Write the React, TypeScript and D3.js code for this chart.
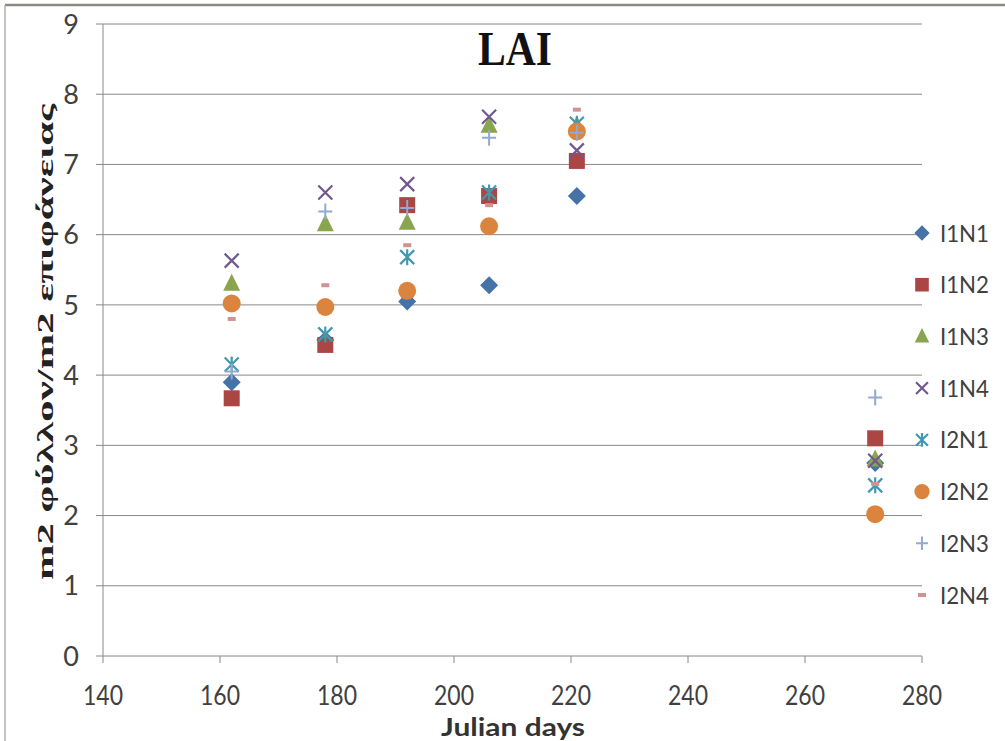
import React from "react";
import * as d3 from "d3";

const days = [162, 178, 192, 206, 221, 272];
const seriesNames = ["I1N1", "I1N2", "I1N3", "I1N4", "I2N1", "I2N2", "I2N3", "I2N4"];
const I1N1 = [3.9, 4.5, 5.05, 5.28, 6.55, 2.75];
const I1N2 = [3.67, 4.43, 6.42, 6.55, 7.05, 3.1];
const I1N3 = [5.3, 6.15, 6.17, 7.55, 7.55, 2.8];
const I1N4 = [5.63, 6.6, 6.72, 7.68, 7.2, 2.78];
const I2N1 = [4.15, 4.58, 5.68, 6.6, 7.58, 2.43];
const I2N2 = [5.02, 4.97, 5.2, 6.12, 7.47, 2.02];
const I2N3 = [4.05, 6.33, 6.38, 7.38, 7.45, 3.68];
const I2N4 = [4.8, 5.28, 5.85, 6.42, 7.78, 2.45];
const seriesValues = [I1N1, I1N2, I1N3, I1N4, I2N1, I2N2, I2N3, I2N4];
const colors = ["#4572A7", "#AA4643", "#89A54E", "#71588F", "#4198AF", "#DB843D", "#93A9CF", "#D19392"];
const shapes = ["diamond", "square", "triangle", "x", "star", "circle", "plus", "dash"];
const xTicks = [140, 160, 180, 200, 220, 240, 260, 280];
const yTicks = [0, 1, 2, 3, 4, 5, 6, 7, 8, 9];

const x = d3.scaleLinear().domain([140, 280]).range([103, 922]);
const y = d3.scaleLinear().domain([0, 9]).range([656, 24]);

const sans = "Lato, 'Open Sans', sans-serif";

function Marker({ shape, cx, cy, color, s = 1 }: { shape: string; cx: number; cy: number; color: string; s?: number }) {
  const k = (v: number) => v * s;
  switch (shape) {
    case "diamond":
      return <path d={`M${cx},${cy - k(9)}L${cx + k(9)},${cy}L${cx},${cy + k(9)}L${cx - k(9)},${cy}Z`} fill={color} />;
    case "square":
      return <rect x={cx - k(8)} y={cy - k(8)} width={k(16)} height={k(16)} fill={color} />;
    case "triangle":
      return <path d={`M${cx},${cy - k(10)}L${cx + k(8.5)},${cy + k(7)}L${cx - k(8.5)},${cy + k(7)}Z`} fill={color} />;
    case "circle":
      return <circle cx={cx} cy={cy} r={k(9)} fill={color} />;
    case "x":
      return (
        <path
          d={`M${cx - k(7)},${cy - k(7)}L${cx + k(7)},${cy + k(7)}M${cx - k(7)},${cy + k(7)}L${cx + k(7)},${cy - k(7)}`}
          stroke={color}
          strokeWidth={2.2}
        />
      );
    case "star":
      return (
        <path
          d={`M${cx - k(7)},${cy - k(7)}L${cx + k(7)},${cy + k(7)}M${cx - k(7)},${cy + k(7)}L${cx + k(7)},${cy - k(7)}M${cx},${cy - k(8)}L${cx},${cy + k(8)}`}
          stroke={color}
          strokeWidth={2.2}
        />
      );
    case "plus":
      return <path d={`M${cx - k(7)},${cy}L${cx + k(7)},${cy}M${cx},${cy - k(8)}L${cx},${cy + k(8)}`} stroke={color} strokeWidth={2} />;
    case "dash":
      return <rect x={cx - 4} y={cy - 2} width={8} height={4} fill={color} />;
    default:
      return null;
  }
}

export default function App() {
  const legendY = d3.scaleLinear().domain([0, 7]).range([233, 595]);
  return (
    <svg width={1005} height={741} style={{ position: "absolute", left: 0, top: 0, background: "#fff" }}>
      <rect x={0} y={0} width={1005} height={741} fill="#fff" />
      <line x1={5} y1={5} x2={1005} y2={5} stroke="#8a8a80" strokeWidth={2.5} />
      <line x1={5} y1={5} x2={5} y2={741} stroke="#b0b0b0" strokeWidth={1.5} />
      {yTicks.map((t) => (
        <g key={t}>
          {t > 0 && <line x1={103} x2={922} y1={y(t)} y2={y(t)} stroke="#888" strokeWidth={1} />}
          <line x1={96} x2={103} y1={y(t)} y2={y(t)} stroke="#888" strokeWidth={1} />
          <text x={79} y={y(t)} dy="0.36em" textAnchor="end" fontFamily={sans} fontSize={27} fill="#404040">
            {t}
          </text>
        </g>
      ))}
      <line x1={103} x2={103} y1={y(9)} y2={y(0)} stroke="#888" strokeWidth={1} />
      <line x1={103} x2={922} y1={y(0)} y2={y(0)} stroke="#888" strokeWidth={1} />
      {xTicks.map((t) => (
        <g key={t}>
          <line x1={x(t)} x2={x(t)} y1={y(0)} y2={y(0) + 7} stroke="#888" strokeWidth={1} />
          <text
            x={x(t) - 20}
            y={705}
            textLength={40}
            lengthAdjust="spacingAndGlyphs"
            fontFamily={sans}
            fontSize={26}
            fill="#404040"
          >
            {t}
          </text>
        </g>
      ))}
      {seriesValues.map((vals, si) =>
        vals.map((v, i) => <Marker key={`${si}-${i}`} shape={shapes[si]} cx={x(days[i])} cy={y(v)} color={colors[si]} />)
      )}
      {seriesNames.map((n, i) => (
        <g key={n}>
          <Marker shape={shapes[i]} cx={922} cy={legendY(i)} color={colors[i]} s={0.85} />
          <text
            x={940}
            y={legendY(i)}
            dy="0.36em"
            textLength={49}
            lengthAdjust="spacingAndGlyphs"
            fontFamily={sans}
            fontSize={24}
            fill="#404040"
          >
            {n}
          </text>
        </g>
      ))}
      <text
        x={478}
        y={65}
        textLength={74}
        lengthAdjust="spacingAndGlyphs"
        fontFamily="'Liberation Serif', serif"
        fontWeight="bold"
        fontSize={48}
        fill="#111"
      >
        LAI
      </text>
      <text
        x={441}
        y={736}
        textLength={144}
        lengthAdjust="spacingAndGlyphs"
        fontFamily={sans}
        fontWeight="bold"
        fontSize={25}
        fill="#333"
      >
        Julian days
      </text>
      <text
        transform={`translate(45,580) rotate(-90)`}
        dy="0.35em"
        textLength={476}
        lengthAdjust="spacingAndGlyphs"
        fontFamily="'Liberation Serif', serif"
        fontWeight="bold"
        fontSize={23}
        fill="#222"
      >
        m2 φύλλον/m2 επιφάνειας
      </text>
    </svg>
  );
}
